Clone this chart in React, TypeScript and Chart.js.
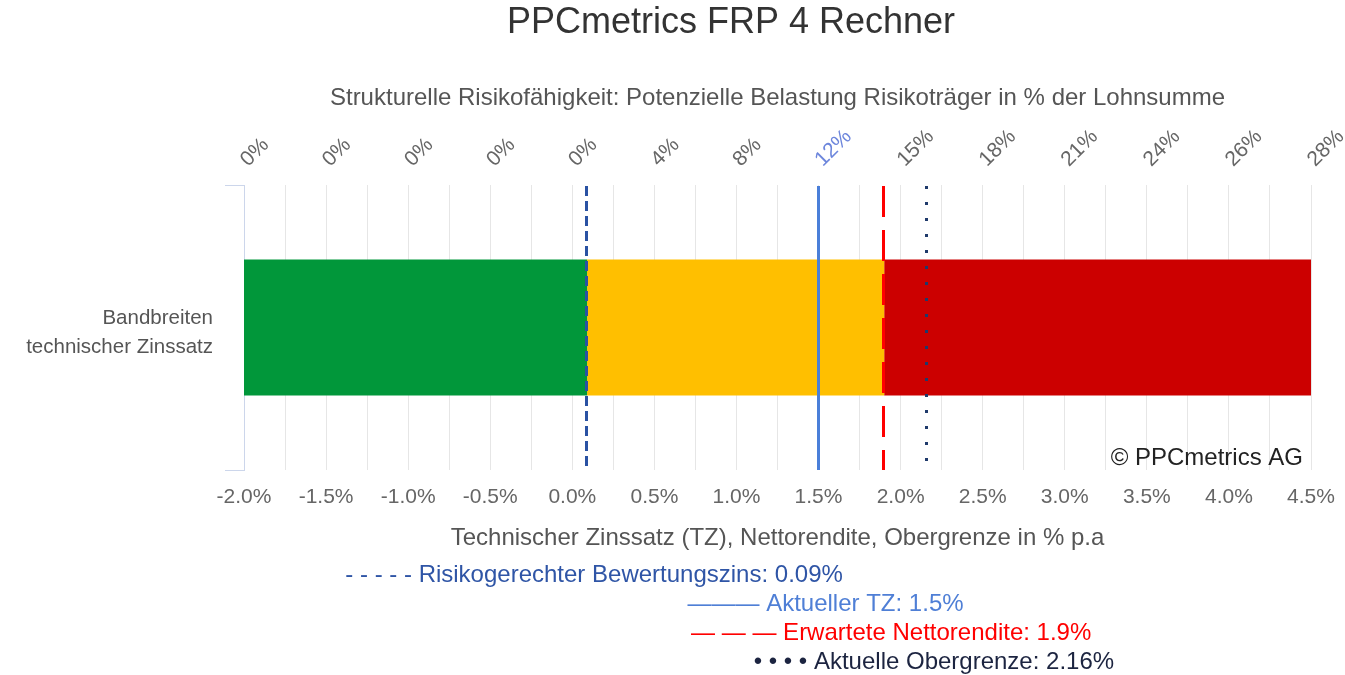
import React, { useEffect, useRef } from 'react';
import { Chart, registerables } from 'chart.js';

Chart.register(...registerables);

// ---- data ----
const categories = [['Bandbreiten', 'technischer Zinssatz']];
const greenRange: [number, number] = [-2.0, 0.09];
const yellowRange: [number, number] = [0.09, 1.9];
const redRange: [number, number] = [1.9, 4.5];
const xMin = -2.0;
const xMax = 4.5;
const topTickLabels = ['0%', '0%', '0%', '0%', '0%', '4%', '8%', '12%', '15%', '18%', '21%', '24%', '26%', '28%'];
const markerValues = [0.09, 1.5, 1.9, 2.16];
const markerLabels = [
  'Risikogerechter Bewertungszins: 0.09%',
  'Aktueller TZ: 1.5%',
  'Erwartete Nettorendite: 1.9%',
  'Aktuelle Obergrenze: 2.16%',
];
const markerSymbols = ['- - - - -', '———', '— — —', '• • • •'];
const titleText = 'PPCmetrics FRP 4 Rechner';
const subtitleText = 'Strukturelle Risikofähigkeit: Potenzielle Belastung Risikoträger in % der Lohnsumme';
const xAxisTitle = 'Technischer Zinssatz (TZ), Nettorendite, Obergrenze in % p.a';
const copyrightText = '© PPCmetrics AG';

// ---- styles ----
const FONT = '"Liberation Sans", Arial, sans-serif';
const markerLineColors = ['#2a52a3', '#4a7fd9', '#ff0000', '#1f3a6b'];
const markerTextColors = ['#2f55a6', '#4f7fd6', '#ff0000', '#1c2440'];
const markerDashes = [[10, 5], [], [31, 13], [3, 13]];

const overlayPlugin = {
  id: 'overlay',
  afterDatasetsDraw(chart: any) {
    const { ctx, chartArea, scales } = chart;
    const x = scales.x;
    markerValues.forEach((v, i) => {
      const px = Math.round(x.getPixelForValue(v)) - 0.5;
      ctx.save();
      ctx.beginPath();
      ctx.strokeStyle = markerLineColors[i];
      ctx.lineWidth = 3;
      ctx.lineCap = 'butt';
      ctx.setLineDash(markerDashes[i]);
      ctx.moveTo(px, chartArea.top + 1);
      ctx.lineTo(px, chartArea.bottom);
      ctx.stroke();
      ctx.restore();
    });
    ctx.save();
    ctx.font = `24px ${FONT}`;
    ctx.fillStyle = '#222222';
    ctx.textAlign = 'right';
    ctx.textBaseline = 'middle';
    ctx.fillText(copyrightText, chartArea.right - 8, chartArea.bottom - 12);
    ctx.restore();
  },
  afterDraw(chart: any) {
    const { ctx, chartArea, scales } = chart;
    const x = scales.x;
    ctx.save();
    ctx.textBaseline = 'middle';
    ctx.textAlign = 'center';
    ctx.font = `36px ${FONT}`;
    ctx.fillStyle = '#333333';
    ctx.fillText(titleText, 731, 23);
    ctx.font = `24px ${FONT}`;
    ctx.fillStyle = '#555555';
    ctx.fillText(subtitleText, (chartArea.left + chartArea.right) / 2, 98);
    // marker legend, each row centred at its line
    markerValues.forEach((v, i) => {
      const px = x.getPixelForValue(v);
      ctx.fillStyle = markerTextColors[i];
      ctx.fillText(markerSymbols[i] + ' ' + markerLabels[i], px + 7, 575 + i * 29);
    });
    ctx.restore();
  },
};

export default function App() {
  const ref = useRef<HTMLCanvasElement>(null);
  useEffect(() => {
    if (!ref.current) return;
    Chart.defaults.font.family = FONT;
    const chart = new Chart(ref.current, {
      type: 'bar',
      data: {
        labels: categories as any,
        datasets: [
          { label: 'grün', data: [greenRange] as any, backgroundColor: '#01973a', grouped: false },
          { label: 'gelb', data: [yellowRange] as any, backgroundColor: '#ffbf00', grouped: false },
          { label: 'rot', data: [redRange] as any, backgroundColor: '#cc0000', grouped: false },
        ],
      },
      options: {
        indexAxis: 'y',
        responsive: false,
        animation: false,
        devicePixelRatio: 1,
        categoryPercentage: 1,
        barPercentage: 0.477,
        layout: { padding: { top: 125, left: 0, right: 34, bottom: 118 } },
        plugins: {
          legend: { display: false },
          title: { display: false },
          tooltip: { enabled: false },
        },
        scales: {
          x: {
            type: 'linear',
            position: 'bottom',
            min: xMin,
            max: xMax,
            afterFit(scale: any) {
              scale.height = 87;
              scale.paddingLeft = 0;
              scale.paddingRight = 0;
            },
            ticks: {
              stepSize: 0.25,
              autoSkip: false,
              minRotation: 0,
              maxRotation: 0,
              padding: 15,
              color: '#666666',
              font: { size: 21 },
              callback: (value: any) => {
                const v = Number(value);
                return Math.abs(v * 2 - Math.round(v * 2)) < 1e-6 ? v.toFixed(1) + '%' : '';
              },
            },
            grid: { color: '#e6e6e6', lineWidth: 1, drawTicks: false },
            border: { display: false },
            title: {
              display: true,
              text: xAxisTitle,
              color: '#555555',
              font: { size: 24 },
              padding: { top: 4, bottom: 4 },
            },
          },
          x2: {
            type: 'linear',
            position: 'top',
            min: xMin,
            max: xMax,
            afterFit(scale: any) {
              scale.height = 60;
              scale.paddingLeft = 0;
              scale.paddingRight = 0;
            },
            ticks: {
              stepSize: 0.5,
              autoSkip: false,
              minRotation: 45,
              maxRotation: 45,
              labelOffset: 18,
              padding: 13,
              font: { size: 21 },
              color: (c: any) => (c.tick && Math.abs(c.tick.value - markerValues[1]) < 1e-6 ? '#6d86dc' : '#666666'),
              callback: (_v: any, index: number) => topTickLabels[index],
            },
            grid: { display: false, drawTicks: false, drawOnChartArea: false },
            border: { display: false },
          },
          y: {
            type: 'category',
            afterFit(scale: any) {
              scale.width = 244;
            },
            ticks: {
              padding: 12,
              labelOffset: 5,
              color: '#555555',
              font: { size: 20.5, lineHeight: 1.4 },
            },
            grid: {
              offset: true,
              drawOnChartArea: false,
              drawTicks: true,
              tickLength: 19,
              color: '#ccd6eb',
              lineWidth: 1,
            },
            border: { display: true, color: '#ccd6eb', width: 1 },
          },
        },
      },
      plugins: [overlayPlugin],
    } as any);
    return () => chart.destroy();
  }, []);
  return (
    <div style={{ position: 'absolute', left: 0, top: 0, width: 1345, height: 675, background: '#ffffff' }}>
      <canvas ref={ref} width={1345} height={675} style={{ display: 'block' }} />
    </div>
  );
}
